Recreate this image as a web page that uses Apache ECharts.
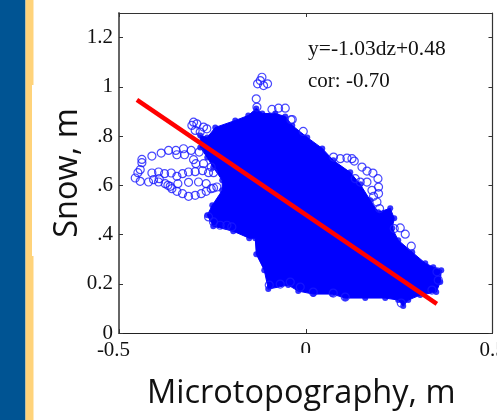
<!DOCTYPE html>
<html>
<head>
<meta charset="utf-8">
<style>html,body{margin:0;padding:0;background:#fff}#c{width:497px;height:420px}</style>
<script src="https://cdn.jsdelivr.net/npm/echarts@6/dist/echarts.min.js"></script>
</head>
<body>
<div id="c"></div>
<script>
const xTickLabels = {'-0.5':'-0.5','0':'0','0.5':'0.5'};
const yTickLabels = {'0':'0','0.2':'0.2','0.4':'.4','0.6':'.6','0.8':'.8','1':'1','1.2':'1.2'};
const equationText = 'y=-1.03dz+0.48';
const correlationText = 'cor: -0.70';

// Outer edge of the solid mass of overlapping points: [microtopography, snow]
const cloudOutline = [
[-.2637,.7945],[-.2423,.8350],[-.1888,.8634],[-.1539,.8837],[-.1325,.9120],[-.1165,.8918],[-.0817,.8918],[-.0549,.8796],
[-.0361,.8431],[.0040,.7945],[.0442,.7499],[.0736,.7013],[.1191,.6526],[.1459,.6040],[.1727,.5391],[.1941,.4905],
[.2262,.5067],[.2369,.4662],[.2316,.4256],[.2476,.3770],[.2851,.3283],[.3199,.2837],[.3414,.2675],[.3628,.2554],
[.3601,.2067],[.3494,.1662],[.3066,.1540],[.2744,.1338],[.2610,.1094],[.2476,.1338],[.2128,.1419],[.1593,.1419],
[.1058,.1419],[.0710,.1581],[.0201,.1581],[-.0201,.1702],[-.0469,.1946],[-.1004,.1784],[-.1111,.2554],[-.1325,.3202],
[-.1352,.3851],[-.1513,.3851],[-.1941,.4135],[-.2476,.4337],[-.2637,.4783],[-.2503,.5189],[-.2236,.5797],[-.2236,.6202],
[-.2477,.6729],[-.2637,.7134],[-.2825,.7540],[-.2825,.8026]
];

// Individually visible points around the mass
const loopPoints = [
[-.4387,.7053],[-.4387,.6918],[-.4119,.7188],[-.3870,.7310],[-.3673,.7418],[-.3477,.7418],[-.3272,.7485],[-.3450,.7242],
[-.3245,.7242],[-.3067,.7418],[-.2853,.7350],[-.3004,.7040],[-.2942,.6877],[-.2737,.6877],[-.2532,.6742],
[-.4432,.6634],[-.4494,.6513],[-.4565,.6296],[-.4432,.6161],[-.4209,.6134],[-.4119,.6499],[-.3941,.6540],[-.3780,.6472],
[-.3602,.6499],[-.3450,.6364],[-.3299,.6472],[-.3138,.6540],[-.2960,.6553],[-.2764,.6594],[-.2603,.6513],[-.2469,.6513],
[-.4075,.6229],[-.3923,.6269],[-.3941,.6134],[-.3763,.6067],[-.3629,.5959],[-.3424,.6067],[-.3138,.6121],[-.2871,.6134],
[-.2665,.6067],[-.2469,.5891],[-.3691,.5999],[-.3584,.5864],[-.3450,.5756],[-.3299,.5661],[-.3138,.5553],[-.2960,.5594],
[-.2799,.5661],[-.2665,.5756],[-.2532,.5864],[-.2380,.5932]
];
const upperLeftPoints = [
[-.3004,.8566],[-.2915,.8499],[-.2737,.8364],[-.2960,.8228],[-.2826,.8161],[-.3049,.8431],[-.2648,.8296]
];
const topPoints = [
[-.1173,1.0389],[-.1290,1.0122],[-.1130,1.0053],[-.1023,1.0122],[-.1218,1.0255],[-.1325,.9513],[-.1307,.9179],
[-.0905,.9083],[-.0728,.9135],[-.0549,.9135],[-.0396,.8662],[-.0361,.8674],[-.0067,.8188]
];
const rightPoints = [
[.0744,.7146],[.0924,.7081],[.1103,.7106],[.1237,.7081],[.1299,.6984],[.1505,.6741],[.1639,.6579],[.1799,.6498],
[.1933,.6271],[.1949,.5930],[.1772,.5797],[.1949,.5663],[.1815,.5553],[.1906,.5322],[.1976,.5055],[.1639,.6133],
[.1459,.6133],[.1325,.6271],[.2369,.4244],[.2530,.4268],[.2664,.4013],[.2825,.3527]
];
const lowerPoints = [
[-.2603,.4716],[-.2469,.4513],[-.2291,.4378],[-.2111,.4378],[-.1979,.4310],
[-.0977,.1946],[-.0683,.1986],[-.0415,.2067],[-.0147,.1865],[.0201,.1662],[.0736,.1621],[.1058,.1459],[.2557,.1216],
[.3513,.2485],[.3547,.2148],[.3379,.1743]
];
const fitLine = [[-.452,.947],[.351,.118]];

const chart = echarts.init(document.getElementById('c'), null, {renderer:'canvas'});
const SERIF = '"Liberation Serif", serif';
const tickStyle = {show:true, inside:true, length:4, lineStyle:{color:'#333', width:1}};
const circleSeries = (name, data) => ({
  type:'scatter', name, data, symbol:'circle', symbolSize:8, z:3, silent:true,
  itemStyle:{color:'rgba(0,0,0,0)', borderColor:'#1a1aff', borderWidth:1.2}
});
chart.setOption({
  animation:false,
  backgroundColor:'#fff',
  grid:{left:119, right:4.5, top:13, bottom:87, show:false, outerBoundsMode:'none'},
  xAxis:[{
    type:'value', min:-0.5, max:0.5, interval:0.5, position:'bottom',
    axisLine:{show:true, onZero:false, lineStyle:{color:'#222', width:1.2}},
    axisTick:tickStyle, splitLine:{show:false},
    axisLabel:{
      margin:7, color:'#111', fontFamily:SERIF, fontSize:21, hideOverlap:false,
      formatter:v => {const s = xTickLabels[String(v)]; return v === -0.5 ? '{l|'+s+'}' : s;},
      rich:{l:{padding:[0,11,0,0], fontFamily:SERIF, fontSize:21, color:'#111'}}
    },
    name:'Microtopography, m', nameLocation:'middle', nameGap:44, nameMoveOverlap:false,
    nameTextStyle:{fontFamily:'"Open Sans"', fontSize:32.5, color:'#111', padding:[0,9,0,0]}
  },{
    type:'value', min:-0.5, max:0.5, interval:0.5, position:'top',
    axisLine:{show:true, onZero:false, lineStyle:{color:'#333', width:1.2}},
    axisTick:tickStyle, axisLabel:{show:false}, splitLine:{show:false}
  }],
  yAxis:[{
    type:'value', min:0, max:1.3, interval:0.2, position:'left',
    axisLine:{show:true, onZero:false, lineStyle:{color:'#666', width:2}},
    axisTick:tickStyle, splitLine:{show:false},
    axisLabel:{
      margin:6, color:'#111', fontFamily:SERIF, fontSize:21, showMaxLabel:false,
      formatter:v => yTickLabels[String(Math.round(v*10)/10)] || ''
    },
    name:'Snow, m', nameLocation:'middle', nameGap:35, nameMoveOverlap:false,
    nameTextStyle:{fontFamily:'"Open Sans"', fontSize:32.5, color:'#111'}
  },{
    type:'value', min:0, max:1.3, interval:0.2, position:'right',
    axisLine:{show:true, onZero:false, lineStyle:{color:'#333', width:1.2}},
    axisTick:tickStyle, axisLabel:{show:false}, splitLine:{show:false}
  }],
  graphic:[
    {type:'rect', z:0, silent:true, shape:{x:0,y:0,width:25.5,height:420}, style:{fill:'#005493'}},
    {type:'rect', z:0, silent:true, shape:{x:25.5,y:0,width:8,height:85}, style:{fill:'#FFD37A'}},
    {type:'rect', z:0, silent:true, shape:{x:25.5,y:85,width:6.5,height:171}, style:{fill:'#FFD37A'}},
    {type:'rect', z:0, silent:true, shape:{x:25.5,y:256,width:8,height:164}, style:{fill:'#FFD37A'}},
    {type:'rect', z:100, silent:true, shape:{x:131,y:353,width:339,height:7}, style:{fill:'#fff'}},
    {type:'rect', z:100, silent:true, shape:{x:470,y:357,width:27,height:5}, style:{fill:'#fff'}},
    {type:'text', z:100, silent:true, x:308, y:38, style:{text:equationText, font:'21.5px '+SERIF, fill:'#111'}},
    {type:'text', z:100, silent:true, x:308, y:71, style:{text:correlationText, font:'21px '+SERIF, fill:'#111'}}
  ],
  series:[
    {
      type:'custom', name:'cloud', data:cloudOutline, z:2, silent:true, clip:false,
      renderItem:(params, api) => {
        if (params.dataIndex !== 0) return;
        return {type:'polygon', shape:{points:cloudOutline.map(p => api.coord(p))}, style:{fill:'#0000ff', stroke:'#0000ff', lineWidth:1}};
      }
    },
    {
      type:'scatter', name:'cloudEdge', data:cloudOutline, symbol:'circle', symbolSize:6, z:2, silent:true,
      itemStyle:{color:'#0000ff'}
    },
    circleSeries('loops', loopPoints),
    circleSeries('upperLeft', upperLeftPoints),
    circleSeries('top', topPoints),
    circleSeries('right', rightPoints),
    circleSeries('lower', lowerPoints),
    {
      type:'line', name:'fit', data:fitLine, z:5, symbol:'none', silent:true,
      lineStyle:{color:'#ff0000', width:4.5}
    }
  ]
});
</script>
</body>
</html>
